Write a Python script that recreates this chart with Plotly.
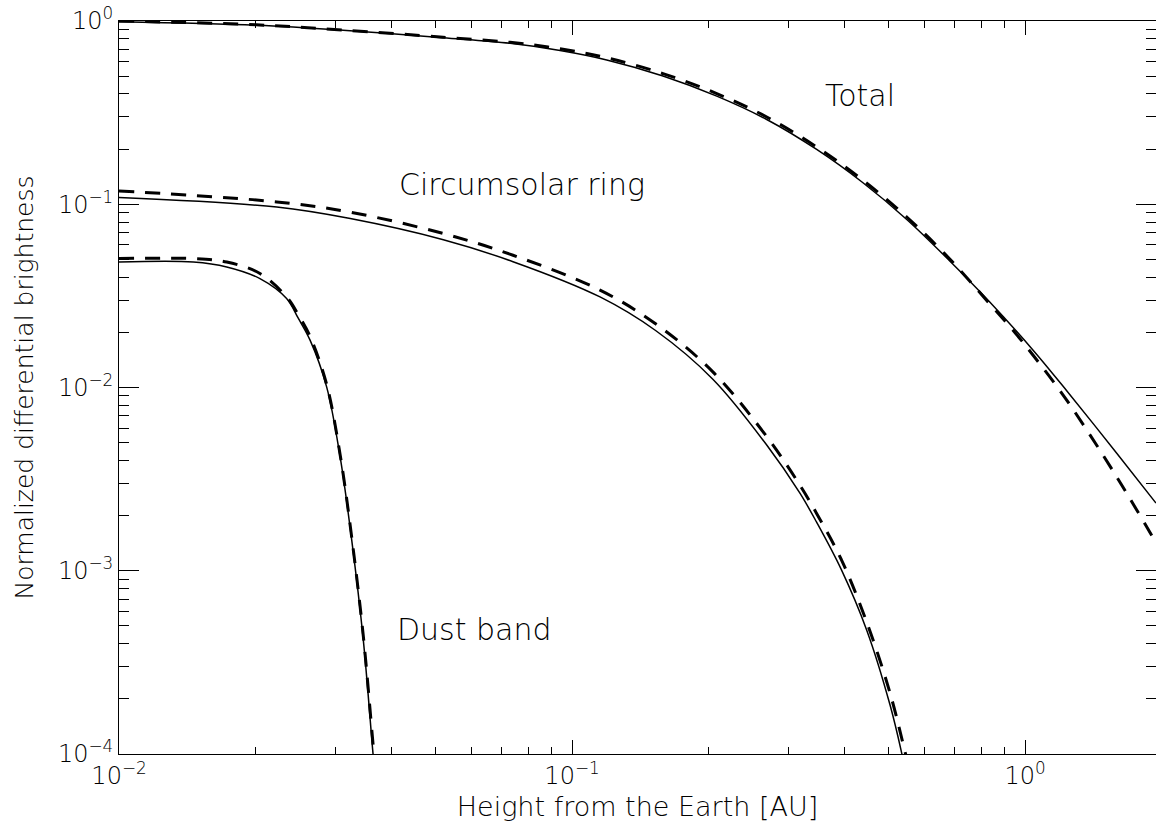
import math
import plotly.graph_objects as go

# ---- data ----
total_x = [0.01, 0.0201, 0.03123, 0.0519, 0.073, 0.0941, 0.1193, 0.1588, 0.2087, 0.2691,
           0.3468, 0.4388, 0.5482, 0.683, 0.8369, 1.042, 1.236, 1.594, 1.946]
total_solid = [0.99, 0.947, 0.89, 0.81, 0.755, 0.69, 0.613, 0.501, 0.389, 0.290,
               0.199, 0.131, 0.0826, 0.0489, 0.0292, 0.01598, 0.0096, 0.00438, 0.00234]

total_dash_x = [0.01, 0.0201, 0.03123, 0.0519, 0.073, 0.0941, 0.1193, 0.1588, 0.2087, 0.2691,
                0.3468, 0.4388, 0.5482, 0.683, 0.8369, 0.9408, 1.042, 1.236, 1.594, 1.946]
total_dash = [1.0, 0.953, 0.893, 0.816, 0.765, 0.705, 0.630, 0.5164, 0.4017, 0.2995,
              0.2054, 0.1352, 0.0852, 0.0501, 0.02848, 0.02054, 0.0150, 0.00853, 0.00325, 0.00142]

ring_x = [0.01, 0.0223, 0.0324, 0.0520, 0.0741, 0.1153, 0.1532, 0.2046, 0.2693, 0.3185,
          0.3467, 0.3936, 0.4473, 0.5036, 0.5349, 0.5406]
ring_solid = [0.1088, 0.0965, 0.0835, 0.0640, 0.0486, 0.0312, 0.0204, 0.01110, 0.00484, 0.00265,
              0.00184, 0.001008, 0.000474, 0.000185, 0.0001, 0.000088]

ring_dash_x = [0.01, 0.0223, 0.0324, 0.0520, 0.0741, 0.1153, 0.1532, 0.2046, 0.2693, 0.3185,
               0.3467, 0.3936, 0.4473, 0.5036, 0.5433, 0.5516]
ring_dash = [0.1182, 0.1030, 0.0905, 0.0692, 0.0527, 0.0340, 0.0222, 0.01217, 0.00538, 0.00293,
             0.002055, 0.001143, 0.000524, 0.000215, 0.000103, 0.0000891]

dust_x = [0.01, 0.01459, 0.01729, 0.02047, 0.02344, 0.02487, 0.02641, 0.02873, 0.03077,
          0.03264, 0.03462, 0.03631, 0.0365]
dust_solid = [0.0484, 0.0484, 0.0455, 0.0393, 0.0306, 0.02388, 0.01813, 0.01008, 0.00418,
              0.001469, 0.000418, 0.000105, 0.000092]

dust_dash_x = [0.01, 0.01459, 0.01729, 0.02047, 0.02344, 0.02487, 0.02641, 0.02873, 0.03077,
               0.03264, 0.03462, 0.03655, 0.0367]
dust_dash = [0.0505, 0.0505, 0.0484, 0.0419, 0.0312, 0.0250, 0.0190, 0.0104, 0.0043,
             0.00152, 0.00044, 0.0001, 0.000092]

x_range = [0.01, 1.946]
y_range = [1e-4, 1.0]
x_major = [0.01, 0.1, 1]
x_major_text = ["10<sup>−2</sup>", "10<sup>−1</sup>", "10<sup>0</sup>"]
x_minor = [0.02, 0.03, 0.04, 0.05, 0.06, 0.07, 0.08, 0.09,
           0.2, 0.3, 0.4, 0.5, 0.6, 0.7, 0.8, 0.9]
y_major = [1e-4, 1e-3, 1e-2, 1e-1, 1]
y_major_text = ["10<sup>−4</sup>", "10<sup>−3</sup>", "10<sup>−2</sup>", "10<sup>−1</sup>", "10<sup>0</sup>"]
y_minor = [m * 10 ** e for e in (-4, -3, -2, -1) for m in (2, 3, 4, 5, 6, 7, 8, 9)]

labels = ["Total", "Circumsolar ring", "Dust band"]
label_x = [0.358, 0.0411, 0.0407]
label_y = [0.393, 0.128, 0.00048]

FONT = "DejaVu Sans"
solid_line = dict(color="black", width=1.5, shape="spline", smoothing=1.0)
dash_line = dict(color="black", width=3, dash="15px,11px", shape="spline", smoothing=1.0)

fig = go.Figure()
for xs, ys, ln in [
    (total_x, total_solid, solid_line),
    (total_dash_x, total_dash, dash_line),
    (ring_x, ring_solid, solid_line),
    (ring_dash_x, ring_dash, dash_line),
    (dust_x, dust_solid, solid_line),
    (dust_dash_x, dust_dash, dash_line),
]:
    fig.add_trace(go.Scatter(x=xs, y=ys, mode="lines", line=ln, showlegend=False, hoverinfo="skip"))

# invisible trace so the minor-tick overlay axes are drawn
fig.add_trace(go.Scatter(x=[0.1], y=[0.1], xaxis="x2", yaxis="y2", mode="markers",
                         marker=dict(opacity=0), showlegend=False, hoverinfo="skip"))

for t, ax, ay in zip(labels, label_x, label_y):
    fig.add_annotation(x=math.log10(ax), y=math.log10(ay), xref="x", yref="y", text=t,
                       showarrow=False, xanchor="left", yanchor="middle",
                       font=dict(family=FONT, size=30, color="black", weight=300))

lx_range = [math.log10(v) for v in x_range]
ly_range = [math.log10(v) for v in y_range]

fig.update_layout(
    xaxis=dict(type="log", range=lx_range, showline=True, linecolor="black", linewidth=1,
               mirror="ticks", ticks="inside", ticklen=14, tickwidth=1, tickcolor="black",
               tickmode="array", tickvals=x_major, ticktext=x_major_text,
               showgrid=False, zeroline=False,
               tickfont=dict(family=FONT, size=24, color="black", weight=300),
               title=dict(text="Height from the Earth [AU]", standoff=8,
                          font=dict(family=FONT, size=27, color="black", weight=300))),
    yaxis=dict(type="log", range=ly_range, showline=True, linecolor="black", linewidth=1,
               mirror="ticks", ticks="inside", ticklen=20, tickwidth=1, tickcolor="black",
               tickmode="array", tickvals=y_major, ticktext=y_major_text,
               showgrid=False, zeroline=False,
               tickfont=dict(family=FONT, size=24, color="black", weight=300),
               title=dict(text="Normalized differential brightness", standoff=17,
                          font=dict(family=FONT, size=25, color="black", weight=300))),
    xaxis2=dict(type="log", range=lx_range, overlaying="x", anchor="y2", side="bottom",
                tickmode="array", tickvals=x_minor, ticks="inside", ticklen=7, tickwidth=1,
                tickcolor="black", showticklabels=False, mirror="ticks", showline=False,
                showgrid=False, zeroline=False),
    yaxis2=dict(type="log", range=ly_range, overlaying="y", anchor="x2", side="left",
                tickmode="array", tickvals=y_minor, ticks="inside", ticklen=10, tickwidth=1,
                tickcolor="black", showticklabels=False, mirror="ticks", showline=False,
                showgrid=False, zeroline=False),
    width=1156, height=832, margin=dict(l=119, r=0, t=21, b=78),
    plot_bgcolor="white", paper_bgcolor="white",
)

fig.write_html("out.html", config={"displayModeBar": False},
               post_script="document.body.style.margin='0';document.body.style.overflow='hidden';")
